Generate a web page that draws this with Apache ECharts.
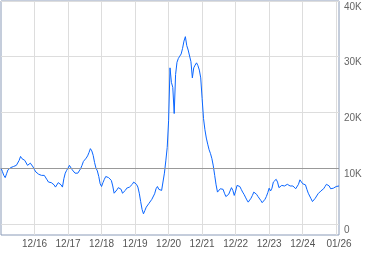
<!DOCTYPE html>
<html><head><meta charset="utf-8">
<script src="https://cdn.jsdelivr.net/npm/echarts@6/dist/echarts.min.js"></script>
<style>html,body{margin:0;padding:0;background:#fff}#c{width:379px;height:255px}</style>
</head><body><div id="c"></div>
<script>
// semi-monthly observations, Dec 2015 .. Jan 2026
const startYear = 2015, startMonth = 12, pointCount = 243;
const categories = [];
for (let j = 0; j < pointCount; j++) {
  const m0 = startMonth - 1 + Math.floor(j / 2);
  const y = startYear + Math.floor(m0 / 12);
  const m = (m0 % 12) + 1;
  categories.push(y + '-' + String(m).padStart(2, '0') + '-' + (j % 2 ? '15' : '01'));
}
const values = [
10000,9400,8700,8300,9000,9700,9900,10100,10200,10300,10400,10500,10700,11400,12100,11700,11500,11400,11200,10500,
10400,10900,10800,10200,9700,9300,9100,8900,8700,8700,8700,8700,8400,7900,7500,7500,7400,7400,7000,6600,
6900,7400,7600,7000,6600,8100,9100,9600,10000,10500,10200,9700,9400,9100,8800,9100,9500,9900,10500,11200,
11500,11800,12200,12800,13500,13100,12300,11000,10000,9500,8500,7200,6700,7400,8000,8500,8400,8300,8200,7800,
6800,5500,5800,6100,6500,6500,6200,5500,5500,6000,6400,6500,6600,6800,7100,7500,7600,7100,6600,5500,
4000,2600,1800,2400,3000,3300,3700,4000,4400,4700,5400,6300,6700,6200,6000,6000,6200,9100,11300,13700,
18500,28000,25400,24500,19800,26800,29000,29700,30100,30500,31500,32800,33600,32000,31200,31000,29100,26200,28000,28500,
28900,28400,27600,26200,22500,18900,16900,15400,14300,13300,12600,11700,10400,8700,7000,5700,5800,6300,6300,6200,
5500,4900,4700,5300,5900,6500,6000,5100,5900,6900,7200,6700,6200,5700,5300,4800,4300,3900,4000,4600,
5100,5700,5700,5300,4900,4600,4200,3800,4000,4400,4900,5600,6400,5900,6400,7500,7800,8000,7500,6500,
6500,6900,7100,6800,6900,7100,7200,6800,6700,6800,6700,6300,6300,7100,7900,7600,7200,7200,7000,6200,
5500,5000,4500,4000,4300,4600,5000,5400,5700,5900,6000,6300,6700,7100,7100,6800,6300,6100,6400,6600,
6700,6800,6800
];
const yTickValues = [0, 10000, 20000, 30000, 40000];
const yTickLabels = ['0', '10K', '20K', '30K', '40K'];
const referenceLevel = 10000;

function isXLabel(idx) {
  return idx === pointCount - 1 || (idx % 24 === 0 && idx >= 24 && idx <= 216);
}
function fmtDate(s) {
  return s.slice(5, 7) + '/' + s.slice(2, 4);
}
const chart = echarts.init(document.getElementById('c'), null, {renderer: 'canvas'});
chart.setOption({
  animation: false,
  grid: {left: 1, right: 40, top: 1, bottom: 20, show: true, borderColor: '#8a9bb8', borderWidth: 1, backgroundColor: '#fff'},
  xAxis: {
    type: 'category', data: categories, boundaryGap: false,
    axisLine: {show: false}, axisTick: {show: false},
    axisLabel: {
      interval: (idx) => isXLabel(idx), showMaxLabel: true,
      formatter: (v) => fmtDate(v),
      color: '#555', fontSize: 10, fontFamily: 'Liberation Sans, Arial, sans-serif', margin: 4
    },
    splitLine: {show: true, interval: (idx) => idx % 24 === 0 && idx > 0 && idx < pointCount - 1,
      lineStyle: {color: '#dddddd', width: 1}}
  },
  yAxis: {
    type: 'value', position: 'right', min: -2000, max: 40000, interval: 2000,
    axisLine: {show: false}, axisTick: {show: false},
    axisLabel: {
      formatter: (v) => { const k = yTickValues.indexOf(v); return k >= 0 ? yTickLabels[k] : ''; },
      color: '#666', fontSize: 10, fontFamily: 'Liberation Sans, Arial, sans-serif',
      verticalAlign: 'top', align: 'left', margin: 5, padding: [1, 0, 0, 0]
    },
    splitLine: {show: true, lineStyle: {color: ['transparent', '#dddddd', 'transparent', 'transparent', 'transparent'], width: 1}}
  },
  series: [{
    type: 'line', data: values, showSymbol: false, symbol: 'none',
    lineStyle: {color: '#0a66ff', width: 1}, itemStyle: {color: '#0a66ff'},
    markLine: {silent: true, symbol: 'none', label: {show: false},
      lineStyle: {color: '#999999', width: 1, type: 'solid'},
      data: [{yAxis: referenceLevel}]}
  }]
});
</script></body></html>
